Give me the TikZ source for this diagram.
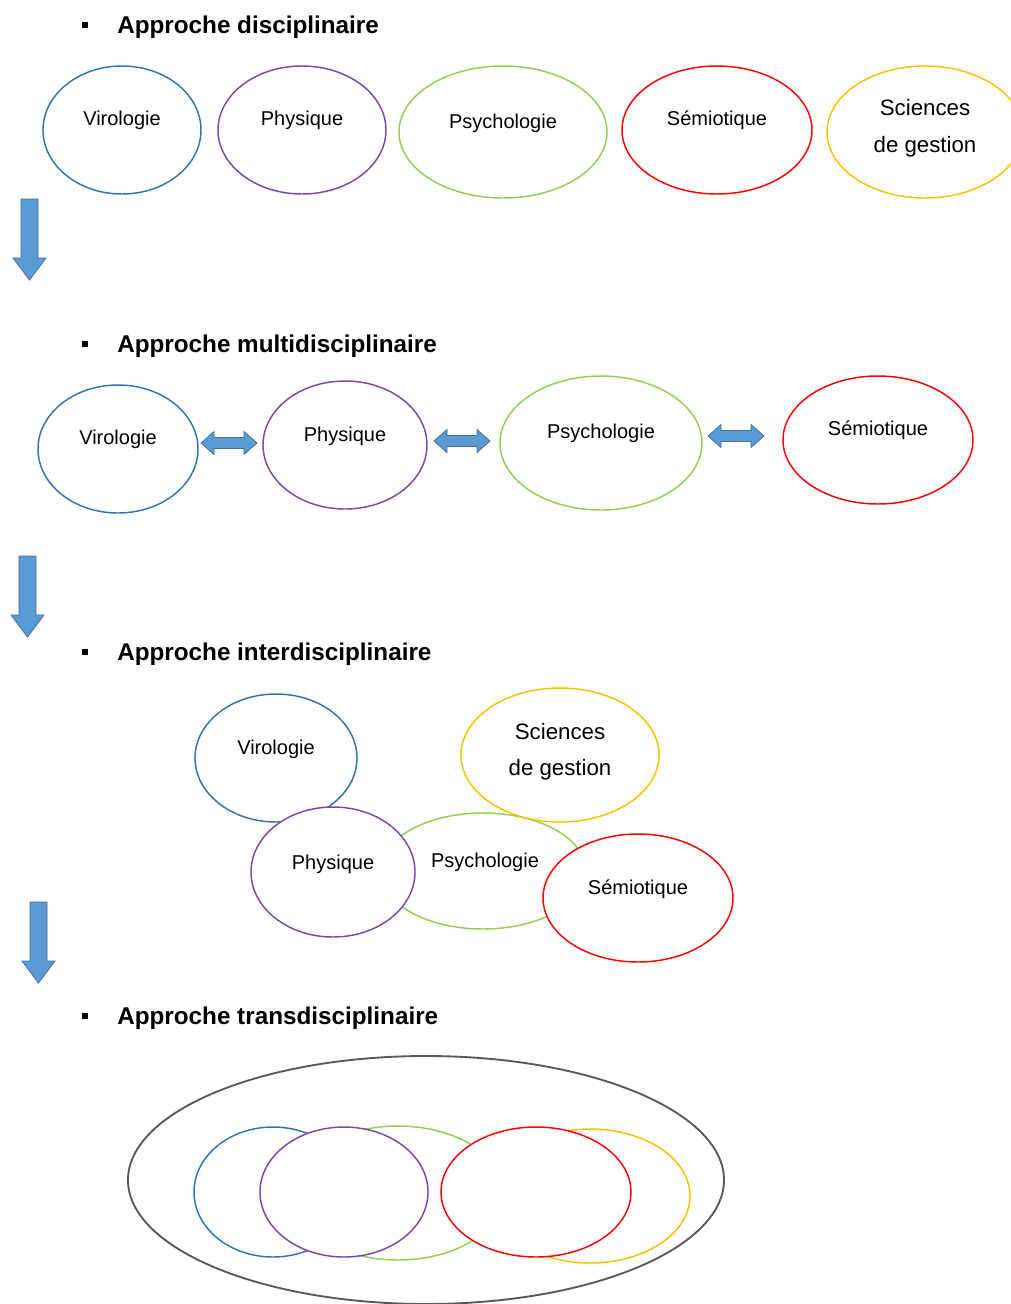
\documentclass[tikz,border=0pt]{standalone}
\usepackage{fontspec}
\setmainfont{Liberation Sans}
\usetikzlibrary{shapes.geometric,calc}
\definecolor{cblue}{HTML}{2E75B6}
\definecolor{cpurple}{HTML}{7B48AE}
\definecolor{cgreen}{HTML}{92D050}
\definecolor{cred}{HTML}{FF0000}
\definecolor{cyellow}{HTML}{FFC000}
\definecolor{afill}{HTML}{5B9BD5}
\definecolor{aline}{HTML}{41719C}
\definecolor{cgray}{HTML}{595959}
\tikzset{
 ell/.style={ellipse, draw=#1, fill=white, inner sep=0pt, line width=1.1pt},
 rad/.style n args={2}{minimum width=#1*1.5pt, minimum height=#2*1.5pt},
 lbl/.style={font=\fontsize{15}{18}\selectfont, text=black, inner sep=0pt},
 lblbig/.style={font=\fontsize{16.7}{20}\selectfont, text=black, inner sep=0pt},
 head/.style={font=\bfseries\fontsize{18.2}{22}\selectfont, anchor=base west, inner sep=0pt, text=black},
 bullet/.style={fill=black, minimum size=4.5pt, inner sep=0pt},
 blk/.style={fill=afill, draw=aline, line width=0.6pt, line join=miter},
 darrow/.pic={\path[blk] (-8.5,0) -- (8.5,0) -- (8.5,59) -- (16.5,59) -- (0,81) -- (-16.5,59) -- (-8.5,59) -- cycle;},
 harrow/.pic={\path[blk] (-28,0) -- (-15,-11.5) -- (-15,-5.5) -- (15,-5.5) -- (15,-11.5) -- (28,0) -- (15,11.5) -- (15,5.5) -- (-15,5.5) -- (-15,11.5) -- cycle;}
}
\begin{document}
\begin{tikzpicture}[x=0.75pt,y=-0.75pt]
\useasboundingbox[fill=white] (0,0) rectangle (1011,1304);

% ---------- Section 1 ----------
\node[bullet] (b1) at (85,25) {};
\node[head] (h1) at (117,33) {Approche disciplinaire};
\node[ell=cblue, rad={79}{64}] (e11) at (122,130) {};
\node[ell=cpurple, rad={84}{64}] (e12) at (302,130) {};
\node[ell=cgreen, rad={104}{66}] (e13) at (503,132) {};
\node[ell=cred, rad={95}{64}] (e14) at (717,130) {};
\node[ell=cyellow, rad={98}{66}] (e15) at (925,132) {};
\node[lbl] (t11) at (122,120) {Virologie};
\node[lbl] (t12) at (302,120) {Physique};
\node[lbl] (t13) at (503,123) {Psychologie};
\node[lbl] (t14) at (717,120) {Sémiotique};
\node[lblbig] (t15a) at (925,108) {Sciences};
\node[lblbig] (t15b) at (925,147) {de gestion};

\pic (a1) at (29.5,199) {darrow};

% ---------- Section 2 ----------
\node[bullet] (b2) at (85,344) {};
\node[head] (h2) at (117,352) {Approche multidisciplinaire};
\node[ell=cblue, rad={80}{64}] (e21) at (118,449) {};
\node[ell=cpurple, rad={82}{64}] (e22) at (345,445) {};
\node[ell=cgreen, rad={101}{67}] (e23) at (601,443) {};
\node[ell=cred, rad={95}{64}] (e24) at (878,440) {};
\node[lbl] (t21) at (118,439) {Virologie};
\node[lbl] (t22) at (345,436) {Physique};
\node[lbl] (t23) at (601,433) {Psychologie};
\node[lbl] (t24) at (878,430) {Sémiotique};
\pic (d1) at (229,443) {harrow};
\pic (d2) at (462,441) {harrow};
\pic (d3) at (736,436) {harrow};

\pic (a2) at (27.5,556) {darrow};

% ---------- Section 3 ----------
\node[bullet] (b3) at (85,652) {};
\node[head] (h3) at (117,660) {Approche interdisciplinaire};
\node[ell=cgreen, rad={103}{58}] (e33) at (483,871) {};
\node[ell=cyellow, rad={99}{67}] (e35) at (560,755) {};
\node[ell=cblue, rad={81}{64}] (e31) at (276,758) {};
\node[ell=cpurple, rad={82}{65}] (e32) at (333,872) {};
\node[ell=cred, rad={95}{64}] (e34) at (638,898) {};
\node[lbl] (t31) at (276,749) {Virologie};
\node[lblbig] (t35a) at (560,732) {Sciences};
\node[lblbig] (t35b) at (560,770) {de gestion};
\node[lbl] (t32) at (333,864) {Physique};
\node[lbl] (t33) at (485,862) {Psychologie};
\node[lbl] (t34) at (638,889) {Sémiotique};

\pic (a3) at (38.5,902) {darrow};

% ---------- Section 4 ----------
\node[bullet] (b4) at (85,1016) {};
\node[head] (h4) at (117,1024) {Approche transdisciplinaire};
\node[ell=cgray, rad={298}{124}, line width=1.4pt] (e40) at (426,1180) {};
\node[ell=cgreen, rad={106}{67}] (e43) at (398,1193) {};
\node[ell=cblue, rad={79}{65}] (e41) at (273,1192) {};
\node[ell=cpurple, rad={84}{65}] (e42) at (344,1192) {};
\node[ell=cyellow, rad={100}{67}] (e45) at (590,1196) {};
\node[ell=cred, rad={95}{65}] (e44) at (536,1192) {};
\end{tikzpicture}
\end{document}
